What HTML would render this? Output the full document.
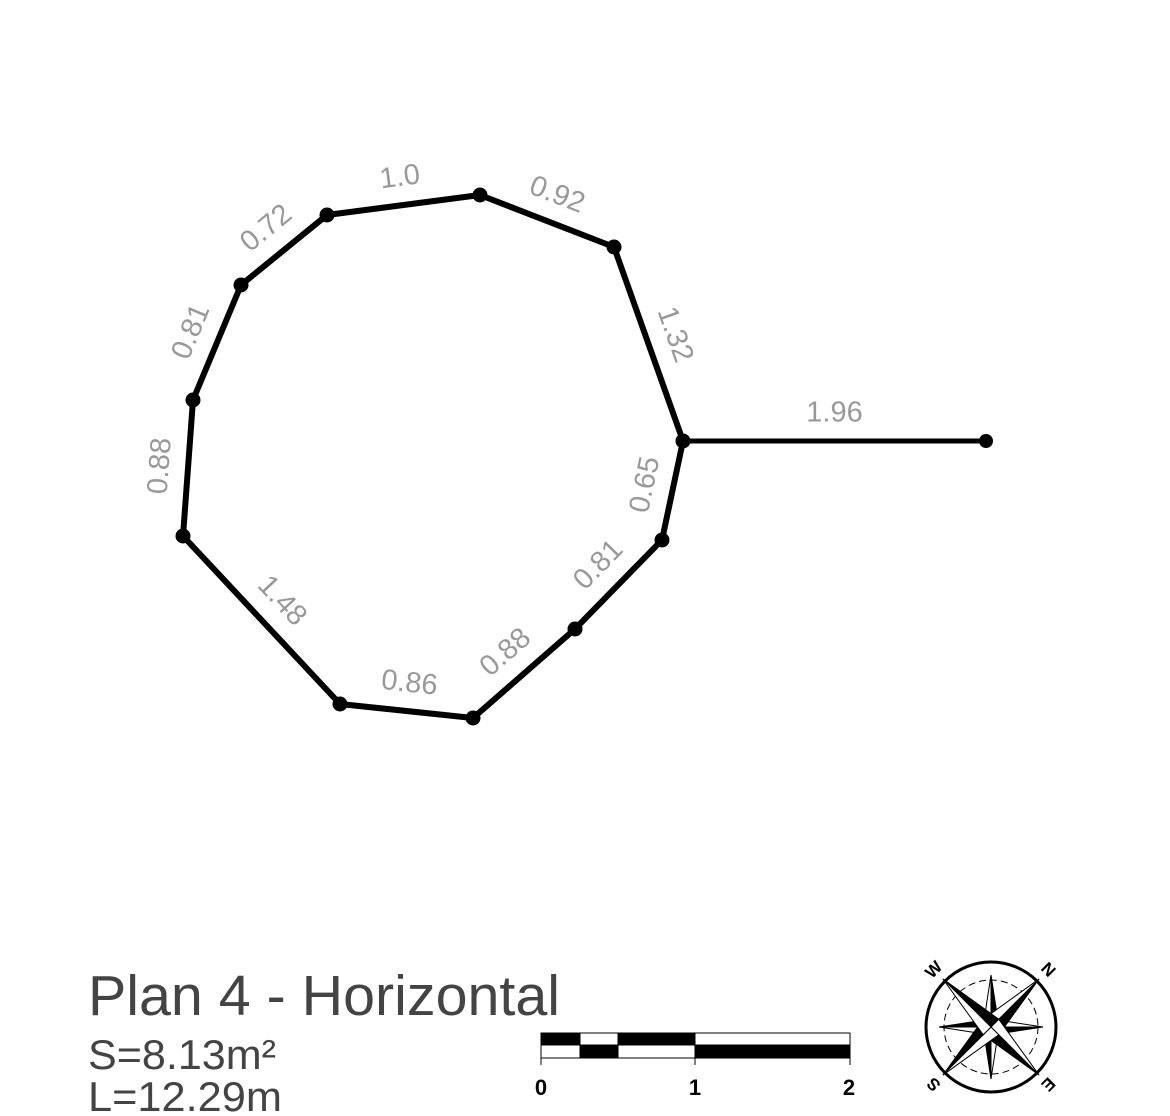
<!DOCTYPE html>
<html><head><meta charset="utf-8"><style>
html,body{margin:0;padding:0;background:#fff;}
svg{display:block;font-family:"Liberation Sans",sans-serif;}
</style></head><body>
<svg id="plan" width="1170" height="1116" viewBox="0 0 1170 1116">
<g id="shape"></g>
<g id="labels"></g>
<text x="88" y="1015" font-size="57" fill="#444" textLength="472" lengthAdjust="spacingAndGlyphs">Plan 4 - Horizontal</text>
<text x="88" y="1069" font-size="42" fill="#444" textLength="188" lengthAdjust="spacingAndGlyphs">S=8.13m²</text>
<text x="88" y="1111" font-size="42" fill="#444" textLength="194" lengthAdjust="spacingAndGlyphs">L=12.29m</text>
<g stroke="#000" stroke-width="1">
<rect x="541" y="1033" width="309" height="25" fill="#fff"/>
<rect x="541" y="1033" width="39" height="12" fill="#000"/>
<rect x="580" y="1045" width="38" height="13" fill="#000"/>
<rect x="618" y="1033" width="77" height="12" fill="#000"/>
<rect x="695" y="1045" width="155" height="13" fill="#000"/>
<line x1="541" y1="1058" x2="541" y2="1065"/><line x1="695" y1="1058" x2="695" y2="1065"/><line x1="850" y1="1058" x2="850" y2="1065"/>
</g>
<g font-size="22" font-weight="bold" text-anchor="middle" fill="#000">
<text x="541" y="1095">0</text><text x="695" y="1095">1</text><text x="849" y="1095">2</text>
</g>
<g id="compass" transform="translate(991,1027)"></g>
</svg>
<script>
const vxs=[683,614,480,327,241,193,183,340,473,575,662];
const vys=[441,247,195,215,285,400,536,704,718,629,540];
const edgeLabels=["1.32","0.92","1.0","0.72","0.81","0.88","1.48","0.86","0.88","0.81","0.65"];
const tailEnd=[986,441];
const tailLabel="1.96";
const NS="http://www.w3.org/2000/svg";
const shape=document.getElementById('shape');
const labels=document.getElementById('labels');
function mk(t,a,p){const e=document.createElementNS(NS,t);for(const k in a)e.setAttribute(k,a[k]);p.appendChild(e);return e;}
let pts=vxs.map((x,i)=>x+","+vys[i]).join(" ");
const poly=mk('polygon',{points:pts,fill:"none",stroke:"#000","stroke-width":6,"stroke-linejoin":"round"},shape);


const tl=mk('line',{x1:vxs[0],y1:vys[0],x2:tailEnd[0],y2:tailEnd[1],stroke:"#000","stroke-width":5},shape);


function label(x1,y1,x2,y2,txt){
  let a=Math.atan2(y2-y1,x2-x1)*180/Math.PI;
  if(a>90)a-=180; if(a<=-90)a+=180;
  const r=a*Math.PI/180;
  const mx=(x1+x2)/2+Math.sin(r)*27, my=(y1+y2)/2-Math.cos(r)*27;
  const t=mk('text',{x:mx,y:my,"font-size":29,fill:"#999","text-anchor":"middle","dominant-baseline":"middle",transform:`rotate(${a} ${mx} ${my})`},labels);
  t.textContent=txt;
  
  
}
for(let i=0;i<vxs.length;i++){
  const j=(i+1)%vxs.length;
  label(vxs[i],vys[i],vxs[j],vys[j],edgeLabels[i]);
}
label(vxs[0],vys[0],tailEnd[0],tailEnd[1],tailLabel);
for(let i=0;i<vxs.length;i++){
  const c=mk('circle',{cx:vxs[i],cy:vys[i],r:7.5,fill:"#000"},shape);
  
  
}
const te=mk('circle',{cx:tailEnd[0],cy:tailEnd[1],r:7,fill:"#000"},shape);


// compass
const cg=document.getElementById('compass');
mk('circle',{r:65,fill:"none",stroke:"#000","stroke-width":3},cg);
mk('circle',{r:47,fill:"none",stroke:"#000","stroke-width":1,"stroke-dasharray":"7 4"},cg);
function point(angDeg,len,w){
  const r=angDeg*Math.PI/180,ux=Math.cos(r),uy=Math.sin(r),px=-uy,py=ux;
  const tx=ux*len,ty=uy*len;
  mk('polygon',{points:`0,0 ${tx},${ty} ${px*w},${py*w}`,fill:"#000",stroke:"#000","stroke-width":1},cg);
  mk('polygon',{points:`0,0 ${tx},${ty} ${-px*w},${-py*w}`,fill:"#fff",stroke:"#000","stroke-width":1},cg);
}
[-90,0,90,180].forEach(a=>point(a,52,8));
[-45,45,135,225].forEach(a=>point(a,68,11));
const dirs=[["N",-45],["E",45],["S",135],["W",-135]];
dirs.forEach(([t,a])=>{const r=a*Math.PI/180,x=Math.cos(r)*80,y=Math.sin(r)*80;
 const e=mk('text',{x:x,y:y,"font-size":17,"font-weight":"bold","text-anchor":"middle","dominant-baseline":"middle",transform:`rotate(${a+90} ${x} ${y})`},cg);e.textContent=t;});
</script>
</body></html>
